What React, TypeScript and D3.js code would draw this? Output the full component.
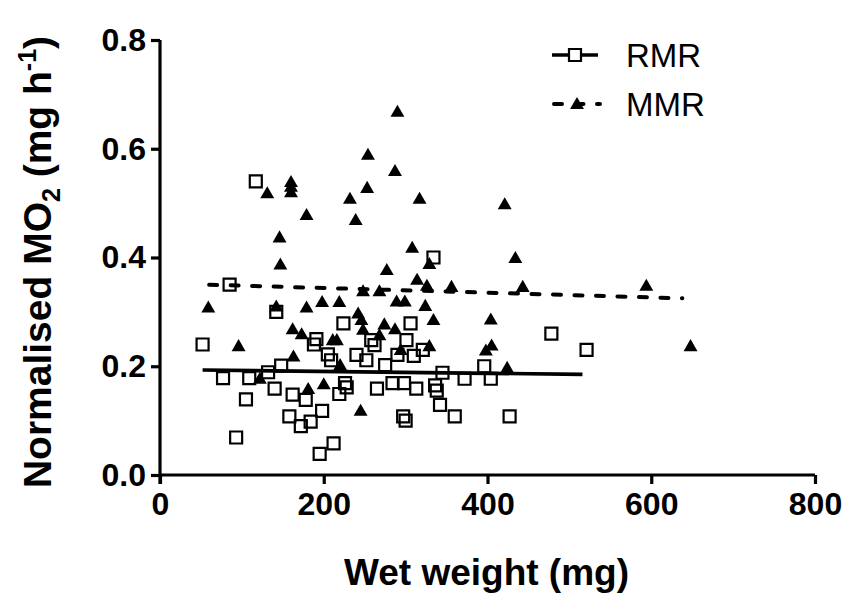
import React, { useEffect, useRef } from 'react';
import * as d3 from 'd3';

// RMR (open squares): wet weight (mg), normalised MO2
const rmrWeight = [52, 77, 85, 93, 105, 109, 117, 132, 140, 142, 148, 158, 162, 172, 178, 184, 188, 191, 195, 198,
   205, 209, 212, 219, 224, 226, 228, 240, 252, 258, 262, 265, 275, 284, 290, 297, 298, 300, 301, 306,
   310, 313, 321, 334, 336, 338, 342, 345, 360, 372, 396, 404, 427, 478, 521];
const rmrValue = [0.24, 0.178, 0.35, 0.069, 0.139, 0.178, 0.54, 0.189, 0.159, 0.30, 0.201, 0.108, 0.148, 0.09, 0.138, 0.098, 0.24, 0.25, 0.039, 0.118,
   0.222, 0.211, 0.058, 0.149, 0.279, 0.169, 0.161, 0.221, 0.211, 0.248, 0.239, 0.159, 0.202, 0.169, 0.221, 0.108, 0.169, 0.10, 0.248, 0.279,
   0.219, 0.159, 0.23, 0.40, 0.165, 0.155, 0.129, 0.188, 0.108, 0.177, 0.20, 0.177, 0.108, 0.26, 0.23];

// MMR (filled triangles)
const mmrWeight = [59, 96, 122, 131, 142, 146, 147, 160, 160, 160, 162, 163, 173, 179, 179, 181, 198, 200, 211, 216,
   219, 220, 232, 239, 242, 245, 246, 248, 248, 253, 254, 268, 268, 274, 277, 287, 287, 289, 290, 294,
   299, 308, 314, 317, 324, 326, 329, 329, 334, 356, 398, 404, 405, 421, 424, 434, 443, 594, 648];
const mmrValue = [0.308, 0.237, 0.177, 0.518, 0.31, 0.437, 0.387, 0.539, 0.53, 0.52, 0.268, 0.218, 0.259, 0.478, 0.308, 0.158, 0.318, 0.167, 0.248, 0.248,
   0.318, 0.202, 0.508, 0.469, 0.297, 0.118, 0.285, 0.338, 0.267, 0.528, 0.589, 0.338, 0.257, 0.277, 0.377, 0.559, 0.268, 0.319, 0.668, 0.23,
   0.319, 0.418, 0.359, 0.508, 0.311, 0.348, 0.388, 0.237, 0.285, 0.346, 0.229, 0.286, 0.238, 0.498, 0.197, 0.399, 0.346, 0.348, 0.237];

// fitted lines, end points
const rmrFitWeight = [52, 516];
const rmrFitValue = [0.193, 0.185];
const mmrFitWeight = [60, 638];
const mmrFitValue = [0.35, 0.325];

const xTicks = [0, 200, 400, 600, 800];
const yTicks = [0, 0.2, 0.4, 0.6, 0.8];
const seriesNames = ['RMR', 'MMR'];

const W = 846;
const H = 599;
const FONT = '"Liberation Sans", Arial, Helvetica, sans-serif';

const App: React.FC = () => {
   const svgRef = useRef<SVGSVGElement | null>(null);

   useEffect(() => {
      if (!svgRef.current) return;
      const svg = d3.select(svgRef.current);
      svg.selectAll('*').remove();

      const x = d3.scaleLinear().domain([0, 800]).range([160, 815]);
      const y = d3.scaleLinear().domain([0, 0.8]).range([475, 40]);

      const sq = d3.symbol(d3.symbolSquare, 144);
      const tri = d3.symbol(d3.symbolTriangle, 84);

      // axes
      const xAxis = svg.append('g')
         .attr('transform', `translate(0,${y(0)})`)
         .call(d3.axisBottom(x).tickValues(xTicks).tickSize(9).tickPadding(8).tickFormat(d3.format('d')));
      const yAxis = svg.append('g')
         .attr('transform', `translate(${x(0)},0)`)
         .call(d3.axisLeft(y).tickValues(yTicks).tickSize(9).tickPadding(5).tickFormat(d3.format('.1f')));

      [xAxis, yAxis].forEach(ax => {
         ax.select('.domain').attr('stroke-width', 3.2).attr('stroke', '#000');
         ax.selectAll('.tick line').attr('stroke-width', 3.2).attr('stroke', '#000');
         ax.selectAll('.tick text')
            .attr('font-family', FONT)
            .attr('font-weight', 'bold')
            .attr('font-size', 32)
            .attr('fill', '#000');
      });
      xAxis.select('.domain').attr('d', `M${x(0)},0H${x(800)}`);
      yAxis.select('.domain').attr('d', `M0,${y(0) + 9}V${y(0.8)}`);

      // MMR triangles
      svg.append('g')
         .selectAll('path')
         .data(mmrWeight.map((w, i) => [w, mmrValue[i]]))
         .enter()
         .append('path')
         .attr('d', tri()!)
         .attr('transform', d => `translate(${x(d[0])},${y(d[1]) + 1})`)
         .attr('fill', '#000');

      // RMR squares
      svg.append('g')
         .selectAll('path')
         .data(rmrWeight.map((w, i) => [w, rmrValue[i]]))
         .enter()
         .append('path')
         .attr('d', sq()!)
         .attr('transform', d => `translate(${x(d[0])},${y(d[1])})`)
         .attr('fill', 'none')
         .attr('stroke', '#000')
         .attr('stroke-width', 2.2);

      // fit lines
      const line = d3.line<number[]>().x(d => x(d[0])).y(d => y(d[1]));
      svg.append('path')
         .attr('d', line(rmrFitWeight.map((w, i) => [w, rmrFitValue[i]])))
         .attr('stroke', '#000')
         .attr('stroke-width', 3.6)
         .attr('fill', 'none');
      svg.append('path')
         .attr('d', line(mmrFitWeight.map((w, i) => [w, mmrFitValue[i]])))
         .attr('stroke', '#000')
         .attr('stroke-width', 4)
         .attr('stroke-dasharray', '8,13.5')
         .attr('stroke-linecap', 'round')
         .attr('fill', 'none');

      // legend
      const leg = svg.append('g').attr('font-family', FONT);
      seriesNames.forEach((name, i) => {
         const ly = 55 + i * 49;
         const row = leg.append('g').attr('transform', `translate(0,${ly})`);
         if (i === 0) {
            row.append('line').attr('x1', 552).attr('x2', 598).attr('y1', 0).attr('y2', 0)
               .attr('stroke', '#000').attr('stroke-width', 3.6);
            row.append('path').attr('d', sq()!).attr('transform', 'translate(575,0)')
               .attr('fill', '#fff').attr('stroke', '#000').attr('stroke-width', 2.2);
         } else {
            row.append('line').attr('x1', 554).attr('x2', 600).attr('y1', 0).attr('y2', 0)
               .attr('stroke', '#000').attr('stroke-width', 4)
               .attr('stroke-dasharray', '8,13.5').attr('stroke-linecap', 'round');
            row.append('path').attr('d', tri()!).attr('transform', 'translate(577,1)').attr('fill', '#000');
         }
         row.append('text')
            .attr('x', 626)
            .attr('y', 12)
            .attr('font-size', 33)
            .attr('fill', '#000')
            .text(name);
      });

      // axis titles
      svg.append('text')
         .attr('x', (x(0) + x(800)) / 2 - 1)
         .attr('y', 585)
         .attr('text-anchor', 'middle')
         .attr('font-family', FONT)
         .attr('font-weight', 'bold')
         .attr('font-size', 37)
         .text('Wet weight (mg)');

      const yt = svg.append('text')
         .attr('transform', `translate(51,${262}) rotate(-90)`)
         .attr('text-anchor', 'middle')
         .attr('font-family', FONT)
         .attr('font-weight', 'bold')
         .attr('font-size', 39);
      yt.append('tspan').text('Normalised MO');
      yt.append('tspan').attr('font-size', 25).attr('dy', 9).text('2');
      yt.append('tspan').attr('dy', -9).text(' (mg h');
      yt.append('tspan').attr('font-size', 25).attr('dy', -15).text('-1');
      yt.append('tspan').attr('dy', 15).text(')');
   }, []);

   return (
      <svg
         ref={svgRef}
         width={W}
         height={H}
         viewBox={`0 0 ${W} ${H}`}
         style={{ position: 'absolute', left: 0, top: 0, background: '#fff' }}
      />
   );
};

export default App;
